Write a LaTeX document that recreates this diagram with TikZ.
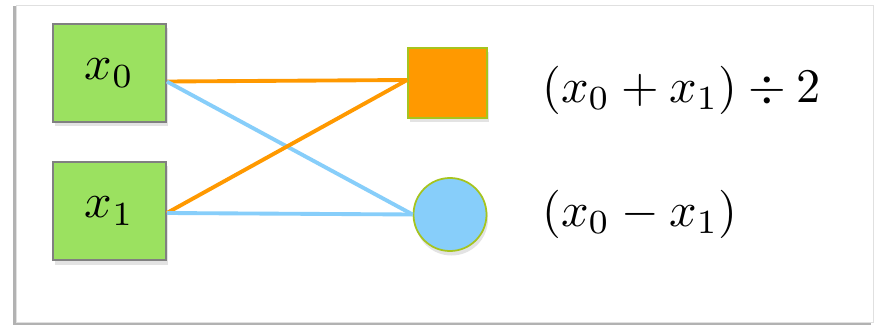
\documentclass[tikz,border=0pt]{standalone}
\usepackage{graphicx}
\usetikzlibrary{shadows}
\definecolor{boxgreen}{RGB}{155,225,96}
\definecolor{avgorange}{RGB}{255,153,0}
\definecolor{diffblue}{RGB}{135,206,250}
\definecolor{rimgreen}{RGB}{166,196,30}
\newcommand{\bigmath}[1]{\scalebox{2.75}{$#1$}}
\tikzset{
    inbox/.style={draw=gray, line width=1pt, fill=boxgreen, minimum width=2.26cm, minimum height=1.96cm,
        drop shadow={shadow xshift=0.03cm, shadow yshift=-0.09cm, opacity=0.22}},
    opnode/.style={draw=rimgreen, line width=1pt, inner sep=0pt,
        drop shadow={shadow xshift=0.03cm, shadow yshift=-0.09cm, opacity=0.22}},
    wire/.style={line width=2.2pt}
}
\begin{document}
\begin{tikzpicture}
            \useasboundingbox (0,0) rectangle (17.52,6.52);
            \fill[black!30] (0.26,0.02) rectangle (17.42,6.40);
            \draw[black!12, fill=white] (0.32,0.08) rectangle (17.46,6.42);
            \node[inbox] (x0) at (2.19,5.06) {\bigmath{x_0}};
            \node[inbox] (x1) at (2.19,2.30) {\bigmath{x_1}};
            \node[opnode, fill=avgorange, minimum width=1.58cm, minimum height=1.40cm] (avg) at (8.95,4.86) {};
            \node[opnode, fill=diffblue, circle, minimum size=1.46cm] (diff) at (9.0,2.23) {};
            \node[anchor=west] (avglbl) at (10.72,4.72) {\bigmath{(x_0+x_1)\div 2}};
            \node[anchor=west] (difflbl) at (10.72,2.24) {\bigmath{(x_0-x_1)}};
            \draw[wire, avgorange] ([yshift=-0.17cm]x0.east) -- ([yshift=0.06cm]avg.west);
            \draw[wire, diffblue] ([yshift=-0.17cm]x0.east) -- (diff.west);
            \draw[wire, avgorange] ([yshift=-0.04cm]x1.east) -- ([yshift=0.06cm]avg.west);
            \draw[wire, diffblue] ([yshift=-0.04cm]x1.east) -- (diff.west);
        \end{tikzpicture}
\end{document}
